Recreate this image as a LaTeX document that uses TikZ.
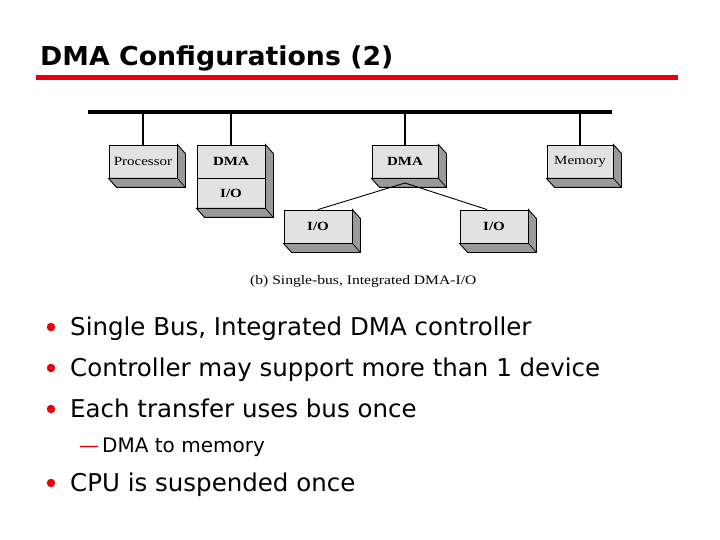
\documentclass[tikz,border=0pt]{standalone}
\usepackage{fontspec}
\usetikzlibrary{calc}
\setmainfont{Liberation Serif}
\newfontfamily\diagfont[FakeStretch=1.2]{Liberation Serif}
\newfontfamily\slidefont{DejaVu Sans}
\newfontfamily\titlefont[FakeStretch=1.03]{DejaVu Sans}
\definecolor{facegray}{HTML}{E2E2E2}
\definecolor{sidegray}{HTML}{9A9A9A}
\definecolor{slidered}{HTML}{E8000B}
\tikzset{
  face/.style={draw=black, line width=0.9pt, fill=facegray, inner sep=0pt,
    minimum width=68pt, minimum height=33pt, font=\diagfont\fontsize{12.5}{12.5}\selectfont},
  wire/.style={draw=black, line width=1.1pt},
  bullettext/.style={anchor=base west, inner sep=0pt, font=\slidefont\fontsize{24.5}{26}\selectfont},
  dot/.style={circle, fill=slidered, inner sep=0pt, minimum size=8.5pt},
}
\newcommand\extrude[2]{%
  \filldraw[fill=sidegray, draw=black, line width=0.9pt]
    (#1.north east) -- ++(8,9) -- ($(#2.south east)+(8,9)$) -- ($(#2.south west)+(8,9)$)
    -- (#2.south west) -- (#2.south east) -- cycle;
  \draw[black, line width=0.7pt] (#2.south east) -- ++(8,9);}
\begin{document}
\begin{tikzpicture}[x=1pt,y=-1pt]
\useasboundingbox (0,0) rectangle (720,540);
% title
\node[anchor=base west, inner sep=0pt, font=\titlefont\bfseries\fontsize{26}{26}\selectfont] (title) at (40,66) {DMA Configurations (2)};
\coordinate (ruleL) at (36,78);
\coordinate (ruleR) at (678,78);
\draw[slidered, line width=5pt] (ruleL) -- (ruleR);
% bus
\coordinate (busL) at (88,112);
\coordinate (busR) at (612,112);
\draw[black, line width=4pt] (busL) -- (busR);
% boxes
\node[face] (proc) at (143,161.5) {Processor};
\node[face] (dmaA) at (231,161.5) {\bfseries DMA};
\node[face, minimum height=30pt] (ioA) at (231,193) {\bfseries I/O};
\node[face, minimum width=66pt] (dmaB) at (405,161.5) {\bfseries DMA};
\node[face, minimum width=66pt] (mem) at (580,161.5) {Memory};
\node[face] (ioL) at (318,226.5) {\bfseries I/O};
\node[face] (ioR) at (494,226.5) {\bfseries I/O};
\extrude{proc}{proc}
\extrude{dmaA}{ioA}
\extrude{dmaB}{dmaB}
\extrude{mem}{mem}
\extrude{ioL}{ioL}
\extrude{ioR}{ioR}
% connectors
\draw[wire] (proc.north) -- (proc.north |- busL);
\draw[wire] (dmaA.north) -- (dmaA.north |- busL);
\draw[wire] (dmaB.north) -- (dmaB.north |- busL);
\draw[wire] (mem.north) -- (mem.north |- busL);
\coordinate (fork) at (405,183);
\draw[black, line width=0.9pt] (fork) -- (ioL.north);
\draw[black, line width=0.9pt] (fork) -- ($(ioR.north)+(-7,0)$);
% caption
\node[anchor=base west, inner sep=0pt, font=\diagfont\fontsize{13}{13}\selectfont] (cap) at (250,284) {(b) Single-bus, Integrated DMA-I/O};
% bullets
\node[dot] (b1) at (51,327) {};
\node[bullettext] (t1) at (70,335) {Single Bus, Integrated DMA controller};
\node[dot] (b2) at (51,368) {};
\node[bullettext] (t2) at (70,376) {Controller may support more than 1 device};
\node[dot] (b3) at (51,409) {};
\node[bullettext] (t3) at (70,417) {Each transfer uses bus once};
\node[anchor=base west, inner sep=0pt, text=slidered, font=\slidefont\fontsize{20}{22}\selectfont] (d1) at (79,452) {—};
\node[anchor=base west, inner sep=0pt, font=\slidefont\fontsize{20}{22}\selectfont] (t4) at (102,452) {DMA to memory};
\node[dot] (b4) at (51,483) {};
\node[bullettext] (t5) at (70,491) {CPU is suspended once};
\end{tikzpicture}
\end{document}
